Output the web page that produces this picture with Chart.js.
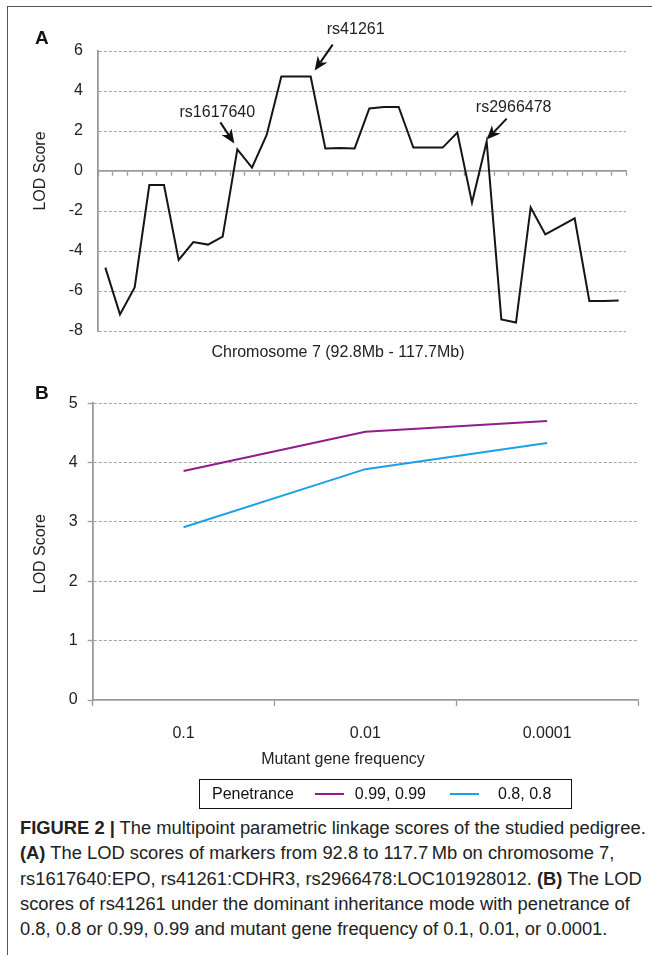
<!DOCTYPE html>
<html>
<head>
<meta charset="utf-8">
<script src="https://cdn.jsdelivr.net/npm/chart.js@4.4.0/dist/chart.umd.min.js"></script>
<style>
  html, body { margin: 0; padding: 0; background: #fff; }
  body { width: 652px; height: 955px; position: relative; overflow: hidden; font-family: "Liberation Sans", Arial, sans-serif; }
  #frame { position: absolute; left: 7px; top: 6px; width: 720px; height: 1000px; border-left: 1.5px solid #555; border-top: 1.5px solid #555; }
  #wrapA { position: absolute; left: 0; top: 0; width: 652px; height: 370px; }
  #wrapB { position: absolute; left: 0; top: 360px; width: 652px; height: 420px; }
  #legend { position: absolute; left: 199px; top: 779px; width: 373px; height: 30px; box-sizing: border-box; border: 1.5px solid #111;
            display: flex; align-items: center; font-size: 16px; color: #111; padding-left: 12px; }
  #legend .sw { display: inline-block; width: 29px; height: 2px; }
  #caption { position: absolute; left: 20px; top: 815px; color: #222; white-space: nowrap; line-height: 25.3px; font-size: 18px; }
  #caption div { height: 25.3px; }
</style>
</head>
<body>
<div id="frame"></div>
<div id="wrapA"><canvas id="chartA" width="652" height="370"></canvas></div>
<div id="wrapB"><canvas id="chartB" width="652" height="420"></canvas></div>
<div id="legend"></div>
<div id="caption">
  <div><b>FIGURE 2 |</b> The multipoint parametric linkage scores of the studied pedigree.</div>
  <div><b>(A)</b> The LOD scores of markers from 92.8 to 117.7&#8201;Mb on chromosome 7,</div>
  <div>rs1617640:EPO, rs41261:CDHR3, rs2966478:LOC101928012. <b>(B)</b> The LOD</div>
  <div>scores of rs41261 under the dominant inheritance mode with penetrance of</div>
  <div>0.8, 0.8 or 0.99, 0.99 and mutant gene frequency of 0.1, 0.01, or 0.0001.</div>
</div>
<script>
// ---------- Data ----------
const markerIndex = ['1','2','3','4','5','6','7','8','9','10','11','12','13','14','15','16','17','18',
                     '19','20','21','22','23','24','25','26','27','28','29','30','31','32','33','34','35','36'];
const lodScoresA = [-4.83, -7.17, -5.82, -0.70, -0.70, -4.45, -3.55, -3.68, -3.28, 1.08, 0.17, 1.80,
                     4.72, 4.72, 4.72, 1.13, 1.15, 1.13, 3.13, 3.20, 3.20, 1.17, 1.17, 1.17,
                     1.92, -1.58, 1.47, -7.42, -7.58, -1.82, -3.17, -2.77, -2.37, -6.50, -6.50, -6.47];
const yTicksA = [-8, -6, -4, -2, 0, 2, 4, 6];
const markerNames = ['rs1617640', 'rs41261', 'rs2966478'];
const markerPoints = [9, 14, 26];

const freqLabels = ['0.1', '0.01', '0.0001'];
const lodPen099 = [3.86, 4.52, 4.70];
const lodPen08 = [2.91, 3.89, 4.33];
const penetranceLabels = ['0.99, 0.99', '0.8, 0.8'];
const yTicksB = [0, 1, 2, 3, 4, 5];

// ---------- Styles ----------
const FONT = '"Liberation Sans", Arial, sans-serif';
const GRID = '#a3a3a3';
const AXIS = '#9a9a9a';

// annotation geometry (offsets from the data point, px)
const annotGeom = [
  { tip: [-3, -6], tail: [-17, -27], label: [-20, -37] },
  { tip: [4, -6],  tail: [22, -32],  label: [45, -47] },
  { tip: [0, -2],  tail: [20, -23],  label: [27, -34] }
];

function drawArrow(ctx, x0, y0, x1, y1) {
  const a = Math.atan2(y1 - y0, x1 - x0);
  const hl = 14, hw = 6;
  const c = Math.cos(a), s = Math.sin(a);
  const bx = x1 - hl * c, by = y1 - hl * s;
  ctx.beginPath(); ctx.moveTo(x0, y0); ctx.lineTo(bx + 4 * c, by + 4 * s);
  ctx.lineWidth = 2; ctx.stroke();
  const nx = s, ny = -c;
  ctx.beginPath();
  ctx.moveTo(x1, y1);
  ctx.lineTo(bx + hw * nx, by + hw * ny);
  ctx.lineTo(bx + 4 * c, by + 4 * s);
  ctx.lineTo(bx - hw * nx, by - hw * ny);
  ctx.closePath(); ctx.fill();
}

const decorA = {
  id: 'decorA',
  afterDraw(chart) {
    const { ctx, scales: { x, y }, chartArea } = chart;
    ctx.save();
    ctx.fillStyle = '#111'; ctx.strokeStyle = '#111';
    ctx.font = 'bold 19px ' + FONT; ctx.textAlign = 'left'; ctx.textBaseline = 'alphabetic';
    ctx.fillText('A', 35, 44);
    ctx.font = '16px ' + FONT; ctx.fillStyle = '#222';
    ctx.textAlign = 'center'; ctx.textBaseline = 'middle';
    ctx.fillText('Chromosome 7 (92.8Mb - 117.7Mb)', chartArea.left + 240, chartArea.bottom + 22);
    ctx.save();
    ctx.translate(41, y.getPixelForValue(0));
    ctx.rotate(-Math.PI / 2);
    ctx.fillText('LOD Score', 0, 0);
    ctx.restore();
    ctx.fillStyle = '#111';
    markerNames.forEach((name, i) => {
      const idx = markerPoints[i];
      const px = x.getPixelForValue(idx), py = y.getPixelForValue(lodScoresA[idx]);
      const g = annotGeom[i];
      drawArrow(ctx, px + g.tail[0], py + g.tail[1], px + g.tip[0], py + g.tip[1]);
      ctx.fillStyle = '#222';
      ctx.fillText(name, px + g.label[0], py + g.label[1]);
      ctx.fillStyle = '#111';
    });
    ctx.restore();
  }
};

const decorB = {
  id: 'decorB',
  afterDraw(chart) {
    const { ctx, chartArea } = chart;
    ctx.save();
    ctx.fillStyle = '#111';
    ctx.font = 'bold 19px ' + FONT; ctx.textAlign = 'left'; ctx.textBaseline = 'alphabetic';
    ctx.fillText('B', 35, 39);
    ctx.font = '16px ' + FONT; ctx.fillStyle = '#222';
    ctx.textAlign = 'center'; ctx.textBaseline = 'middle';
    ctx.fillText('Mutant gene frequency', 343, chartArea.bottom + 60);
    ctx.translate(41, (chartArea.top + chartArea.bottom) / 2 + 2);
    ctx.rotate(-Math.PI / 2);
    ctx.fillText('LOD Score', 0, 0);
    ctx.restore();
  }
};

const gridColor = c => (c.tick && c.tick.value === 0) ? 'rgba(0,0,0,0)' : GRID;

function buildCharts() {
  Chart.defaults.font.family = FONT;
  Chart.defaults.font.size = 16;
  Chart.defaults.color = '#222';

  // ---------- Panel A ----------
  new Chart(document.getElementById('chartA'), {
    type: 'line',
    data: {
      labels: markerIndex,
      datasets: [{
        data: lodScoresA, borderColor: '#151515', borderWidth: 2, pointRadius: 0, tension: 0, fill: false
      }]
    },
    options: {
      responsive: false, animation: false,
      layout: { padding: { left: 20, right: 26, top: 51, bottom: 39 } },
      plugins: { legend: { display: false }, tooltip: { enabled: false } },
      scales: {
        x: {
          type: 'category', position: { y: 0 }, offset: true,
          afterFit: s => { s.height = 0; },
          grid: { display: true, offset: true, drawOnChartArea: false, drawTicks: true, tickLength: 4, tickColor: AXIS, tickWidth: 1.3 },
          border: { display: true, color: AXIS, width: 1.8 },
          ticks: { display: false }
        },
        y: {
          min: -8, max: 6,
          afterBuildTicks: s => { s.ticks = yTicksA.map(v => ({ value: v })); },
          afterFit: s => { s.width = 78; },
          grid: { color: gridColor, lineWidth: 1, drawTicks: false },
          border: { display: true, color: AXIS, width: 1.8, dash: [3, 2] },
          ticks: { padding: 15, color: '#222', font: { size: 16 } }
        }
      }
    },
    plugins: [decorA]
  });

  // ---------- Panel B ----------
  const chartB = new Chart(document.getElementById('chartB'), {
    type: 'line',
    data: {
      labels: freqLabels,
      datasets: [
        { label: penetranceLabels[0], data: lodPen099, borderColor: '#921c8e', borderWidth: 2, pointRadius: 0, tension: 0 },
        { label: penetranceLabels[1], data: lodPen08, borderColor: '#1ba1e6', borderWidth: 2, pointRadius: 0, tension: 0 }
      ]
    },
    options: {
      responsive: false, animation: false,
      layout: { padding: { left: 20, right: 14, top: 43.3, bottom: 0 } },
      plugins: { legend: { display: false }, tooltip: { enabled: false } },
      scales: {
        x: {
          type: 'category', offset: true,
          afterFit: s => { s.height = 80; },
          grid: { display: true, offset: true, drawOnChartArea: false, drawTicks: true, tickLength: 6, tickColor: AXIS, tickWidth: 1.3 },
          border: { display: true, color: AXIS, width: 1.8 },
          ticks: { padding: 18, color: '#222', font: { size: 16 } }
        },
        y: {
          min: 0, max: 5,
          afterBuildTicks: s => { s.ticks = yTicksB.map(v => ({ value: v })); },
          afterFit: s => { s.width = 72.7; },
          grid: { color: gridColor, lineWidth: 1, drawTicks: true, tickLength: 5, tickColor: AXIS, tickWidth: 1.3 },
          border: { display: true, color: AXIS, width: 1.8, dash: [3, 2] },
          ticks: { padding: 10, color: '#222', font: { size: 16 } }
        }
      }
    },
    plugins: [decorB]
  });

  // ---------- HTML legend built from the datasets ----------
  const lg = document.getElementById('legend');
  lg.innerHTML = '';
  const title = document.createElement('span');
  title.textContent = 'Penetrance';
  lg.appendChild(title);
  const gapsBefore = [21, 24];
  chartB.data.datasets.forEach((ds, i) => {
    const sw = document.createElement('span');
    sw.className = 'sw'; sw.style.background = ds.borderColor; sw.style.marginLeft = gapsBefore[i] + 'px';
    lg.appendChild(sw);
    const t = document.createElement('span');
    t.textContent = ds.label; t.style.marginLeft = (i === 0 ? 11 : 19) + 'px';
    lg.appendChild(t);
  });

  // fit caption width to the reference line width
  const cap = document.getElementById('caption');
  const first = cap.querySelector('div');
  const span = document.createElement('span');
  span.innerHTML = first.innerHTML;
  first.innerHTML = ''; first.appendChild(span);
  const w = span.getBoundingClientRect().width;
  cap.style.fontSize = (18 * 626 / w).toFixed(2) + 'px';
}

Promise.all([
  document.fonts.load('16px "Liberation Sans"'),
  document.fonts.load('bold 19px "Liberation Sans"')
]).catch(() => {}).then(buildCharts);
</script>
</body>
</html>
